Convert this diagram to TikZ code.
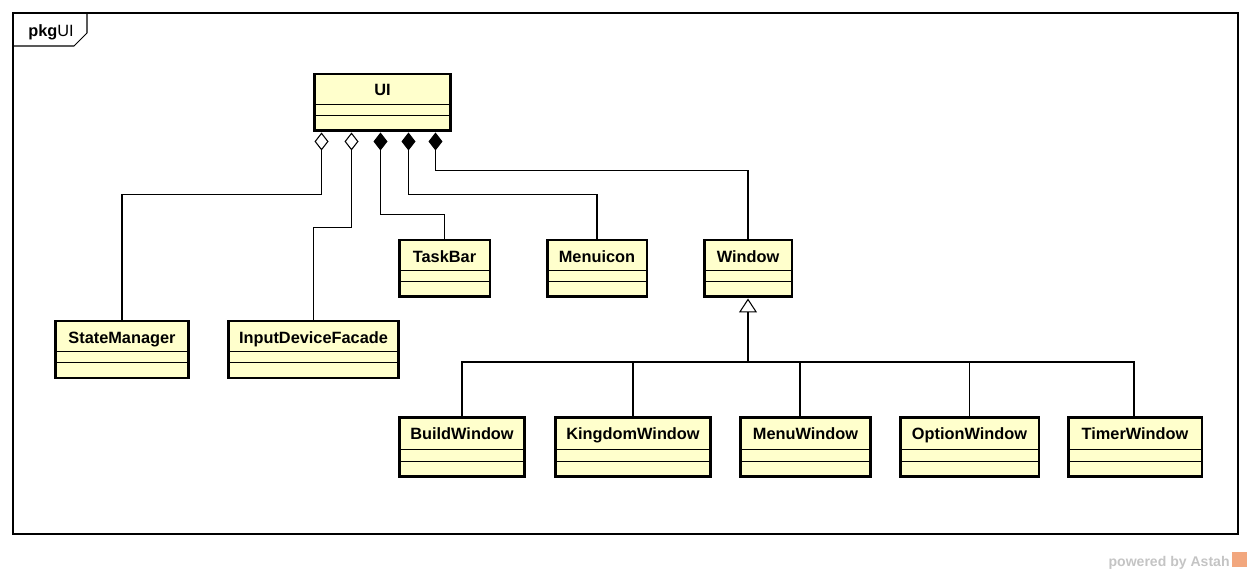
\documentclass[tikz,border=0pt]{standalone}
\usepackage{fontspec}
\setmainfont{Liberation Sans}
\usetikzlibrary{arrows.meta}
\definecolor{clsfill}{HTML}{FFFFCC}
\definecolor{astahgrey}{HTML}{C4C4C4}
\definecolor{astahicon}{HTML}{F2A77E}

\begin{document}
\begin{tikzpicture}[x=0.02cm, y=-0.02cm,
    cls/.style={draw, line width=1.7pt, fill=clsfill, inner sep=0pt, text height=0.44cm, text depth=0.70cm,
        font=\fontsize{9.3}{11}\selectfont\bfseries,
        path picture={\draw[line width=0.5pt] ([yshift=0.54cm]path picture bounding box.south west) -- ([yshift=0.54cm]path picture bounding box.south east);
                      \draw[line width=0.5pt] ([yshift=0.31cm]path picture bounding box.south west) -- ([yshift=0.31cm]path picture bounding box.south east);}},
    subcls/.style={cls, text depth=0.74cm},
    aggr/.style={line width=0.6pt, {Diamond[open, length=0.36cm, width=0.28cm]}-},
    comp/.style={line width=0.6pt, {Diamond[fill=black, length=0.36cm, width=0.28cm]}-},
    gen/.style={line width=1.1pt, -{Triangle[open, fill=white, line width=0.6pt, length=0.28cm, width=0.36cm]}}]
                    \useasboundingbox (0,0) rectangle (1252,574);
                    % package frame
                    \draw[line width=0.6pt] (13,13) rectangle (1238,534);
                    \draw[line width=0.6pt] (13,46) -- (74,46) -- (87,33) -- (87,13);
                    \node[anchor=base west, inner sep=0pt, font=\fontsize{9.3}{11}\selectfont] (pkg) at (28,37) {\textbf{pkg}UI};
                    % classes
                    \node[cls, minimum width=2.74cm] (UI) at (382.5,102.5) {UI};
                    \node[cls, minimum width=2.66cm] (StateManager) at (122,349.5) {StateManager};
                    \node[cls, minimum width=3.40cm] (InputDeviceFacade) at (313.5,349.5) {InputDeviceFacade};
                    \node[cls, minimum width=1.82cm] (TaskBar) at (444.5,268.5) {TaskBar};
                    \node[cls, minimum width=2.00cm] (Menuicon) at (597,268.5) {Menuicon};
                    \node[cls, minimum width=1.76cm] (Window) at (748,268.5) {Window};
                    \node[subcls, minimum width=2.52cm] (BuildWindow) at (462,447) {BuildWindow};
                    \node[subcls, minimum width=3.12cm] (KingdomWindow) at (633,447) {KingdomWindow};
                    \node[subcls, minimum width=2.62cm] (MenuWindow) at (805.5,447) {MenuWindow};
                    \node[subcls, minimum width=2.78cm] (OptionWindow) at (969.5,447) {OptionWindow};
                    \node[subcls, minimum width=2.68cm] (TimerWindow) at (1135,447) {TimerWindow};
                    % aggregation and composition
                    \draw[aggr] ([xshift=0.18cm]UI.south west) -- ++(0,-1.24cm) -| (StateManager.north);
                    \draw[aggr] ([xshift=0.78cm]UI.south west) -- ++(0,-1.90cm) -| (InputDeviceFacade.north);
                    \draw[comp] ([xshift=1.36cm]UI.south west) -- ++(0,-1.64cm) -| (TaskBar.north);
                    \draw[comp] ([xshift=1.92cm]UI.south west) -- ++(0,-1.24cm) -| (Menuicon.north);
                    \draw[comp] ([xshift=2.46cm]UI.south west) -- ++(0,-0.76cm) -| (Window.north);
                    % generalization
                    \coordinate (join) at (748,362);
                    \draw[line width=0.6pt] (BuildWindow.north) |- (join);
                    \draw[line width=0.6pt] (KingdomWindow.north) |- (join);
                    \draw[line width=0.6pt] ([xshift=-0.11cm]MenuWindow.north) |- (join);
                    \draw[line width=0.6pt] (OptionWindow.north) |- (join);
                    \draw[line width=0.6pt] ([xshift=-0.02cm]TimerWindow.north) |- (join);
                    \draw[gen] (join) -- (Window.south);
                    % watermark
                    \node[anchor=base east, inner sep=0pt, text=astahgrey, font=\fontsize{8}{10}\selectfont\bfseries] (powered) at (1230,566) {powered by Astah};
                    \fill[astahicon] (1232,552) rectangle (1247,567);
                \end{tikzpicture}
\end{document}
